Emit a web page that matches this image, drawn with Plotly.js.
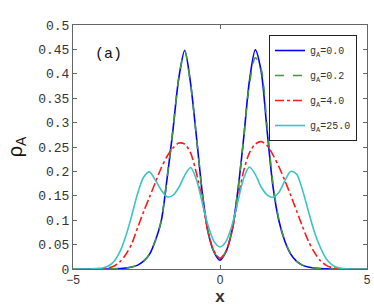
<!DOCTYPE html>
<html>
<head>
<meta charset="utf-8">
<script src="https://cdn.plot.ly/plotly-3.0.1.min.js"></script>
<style>html,body{margin:0;padding:0;background:#fff;}#chart{width:374px;height:306px;}</style>
</head>
<body>
<div id="chart"></div>
<script>
const xs = [-5.0,-4.8,-4.6,-4.4,-4.2,-4.0,-3.8,-3.6,-3.4,-3.2,-3.0,-2.8,-2.6,-2.4,-2.2,-2.0,-1.8,-1.6,-1.4,-1.2,-1.0,-0.8,-0.6,-0.4,-0.2,0.0,
            0.2,0.4,0.6,0.8,1.0,1.2,1.4,1.6,1.8,2.0,2.2,2.4,2.6,2.8,3.0,3.2,3.4,3.6,3.8,4.0,4.2,4.4,4.6,4.8,5.0];

const g0 = [0,0,0,0,0,0,0,0.0005,0.001,0.002,0.004,0.008,0.016,0.03,0.058,0.098,0.185,0.285,0.392,0.448,0.38,0.27,0.155,0.074,0.034,0.018,
            0.035,0.076,0.157,0.265,0.385,0.449,0.405,0.285,0.17,0.1,0.058,0.031,0.016,0.008,0.004,0.002,0.001,0.0005,0,0,0,0,0,0,0];
const g02 = [0,0,0,0,0,0,0,0.0005,0.001,0.002,0.004,0.008,0.016,0.03,0.058,0.099,0.186,0.286,0.392,0.446,0.379,0.27,0.156,0.075,0.035,0.019,
            0.036,0.077,0.157,0.264,0.378,0.433,0.41,0.295,0.176,0.102,0.059,0.032,0.016,0.008,0.004,0.002,0.001,0.0005,0,0,0,0,0,0,0];
const g4 = [0,0,0,0,0,0.001,0.002,0.006,0.015,0.03,0.052,0.085,0.117,0.147,0.177,0.207,0.231,0.248,0.258,0.256,0.238,0.196,0.14,0.074,0.036,0.022,
            0.036,0.075,0.14,0.2,0.238,0.256,0.261,0.253,0.234,0.21,0.182,0.152,0.12,0.088,0.058,0.035,0.018,0.008,0.003,0.001,0,0,0,0,0];
const g25 = [0,0,0,0,0.001,0.002,0.006,0.016,0.036,0.068,0.11,0.155,0.188,0.199,0.182,0.162,0.148,0.151,0.167,0.192,0.208,0.183,0.135,0.088,0.056,0.045,
            0.056,0.088,0.136,0.185,0.209,0.194,0.168,0.152,0.147,0.157,0.18,0.2,0.195,0.163,0.12,0.078,0.046,0.022,0.009,0.003,0.001,0,0,0,0];

const names = ['g<sub>A</sub>=0.0','g<sub>A</sub>=0.2','g<sub>A</sub>=4.0','g<sub>A</sub>=25.0'];
const series = [g0, g02, g4, g25];
const colors = ['#0000ff','#3f9a3f','#ff1a1a','#3cc4c4'];
const dashes = ['solid','dash','dashdot','solid'];

const traces = series.map((ys, i) => ({
  x: xs, y: ys, type: 'scatter', mode: 'lines', name: names[i],
  legendgroup: 'g' + i,
  line: {color: colors[i], width: 1.6, dash: dashes[i], shape: 'spline', smoothing: 0.8}
}));

const layout = {
  width: 374, height: 306,
  margin: {l: 73, r: 7, t: 25, b: 37},
  paper_bgcolor: '#fff', plot_bgcolor: '#fff',
  showlegend: true,
  legend: {
    x: 0.966, xanchor: 'right', y: 0.959, yanchor: 'top',
    bordercolor: '#222', borderwidth: 1, bgcolor: 'rgba(255,255,255,0)',
    font: {family: 'Liberation Mono, monospace', size: 10, color: '#333'},
    traceorder: 'grouped', tracegroupgap: 6, itemwidth: 30
  },
  xaxis: {
    range: [-5, 5], tickvals: [-5, 0, 5], ticks: 'inside', ticklen: 4, tickcolor: '#666',
    mirror: 'allticks', showline: true, linecolor: '#666', linewidth: 1,
    showgrid: false, zeroline: false,
    tickfont: {family: 'Liberation Sans, Arial, sans-serif', size: 12, color: '#333'},
    title: {text: '<b>x</b>', font: {family: 'Liberation Sans, Arial, sans-serif', size: 17, color: '#333'}, standoff: 4}
  },
  yaxis: {
    range: [0, 0.5], tickvals: [0,0.05,0.1,0.15,0.2,0.25,0.3,0.35,0.4,0.45,0.5],
    ticktext: ['0','0.05','0.1','0.15','0.2','0.25','0.3','0.35','0.4','0.45','0.5'],
    ticks: 'inside', ticklen: 4, tickcolor: '#666',
    mirror: 'allticks', showline: true, linecolor: '#666', linewidth: 1,
    showgrid: false, zeroline: false,
    tickfont: {family: 'Liberation Mono, monospace', size: 13, color: '#333'},
    title: {text: 'ρ<sub>A</sub>', font: {family: 'Liberation Sans, Arial, sans-serif', size: 20, color: '#111'}, standoff: 10}
  },
  annotations: [{
    x: -3.78, y: 0.44, xref: 'x', yref: 'y', text: '(a)', showarrow: false,
    font: {family: 'Liberation Mono, monospace', size: 15, color: '#111'}
  }]
};

Plotly.newPlot('chart', traces, layout, {displayModeBar: false, staticPlot: true});
</script>
</body>
</html>
